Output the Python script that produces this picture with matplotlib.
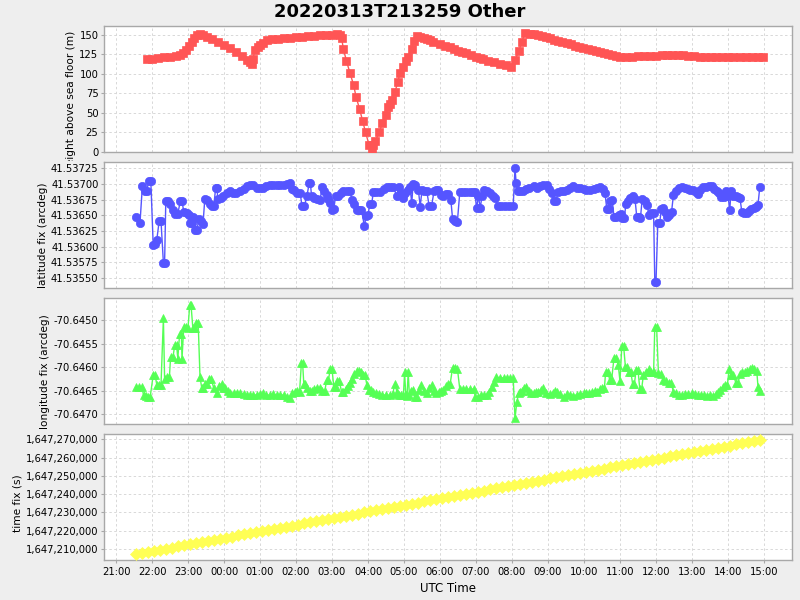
import matplotlib
matplotlib.use("Agg")
import matplotlib.pyplot as plt
import matplotlib.dates as mdates
from matplotlib.ticker import FuncFormatter, MultipleLocator, FormatStrFormatter
from matplotlib.transforms import Bbox
import pandas as pd

title = "20220313T213259 Other"
day0 = pd.Timestamp("2022-03-13")

# (UTC time, value); times before 16:00 belong to the next day
height_m = [
  ("21:51", 119), ("22:00", 119.5), ("22:10", 120.5), ("22:20", 121.5), ("22:30", 122), ("22:40", 123),
  ("22:47", 124), ("22:52", 127), ("22:56", 131), ("23:01", 136), ("23:06", 141), ("23:10", 146),
  ("23:15", 150), ("23:20", 151), ("23:25", 150.5), ("23:31", 148), ("23:40", 145), ("23:50", 141),
  ("00:00", 137), ("00:10", 133), ("00:20", 128), ("00:30", 123), ("00:38", 118), ("00:44", 115),
  ("00:47", 113), ("00:48", 119), ("00:52", 131), ("00:56", 134), ("01:00", 137), ("01:05", 140),
  ("01:11", 143.5), ("01:20", 144.5), ("01:30", 145), ("01:40", 145.8), ("01:50", 146.5), ("02:00", 147),
  ("02:10", 148), ("02:20", 148.5), ("02:30", 149), ("02:40", 149.5), ("02:50", 150), ("03:00", 150.5),
  ("03:08", 151), ("03:13", 150), ("03:16", 146), ("03:19", 132), ("03:24", 117), ("03:30", 101),
  ("03:36", 86), ("03:40", 71), ("03:46", 55), ("03:51", 40), ("03:56", 25), ("04:02", 8.5),
  ("04:06", 3), ("04:09", 9), ("04:12", 13.6), ("04:19", 26), ("04:24", 37), ("04:30", 47.7),
  ("04:34", 57.5), ("04:37", 61), ("04:40", 67), ("04:45", 77.5), ("04:50", 90), ("04:53", 101),
  ("04:59", 109.5), ("05:03", 116), ("05:07", 121.5), ("05:13", 131.7), ("05:17", 142.7), ("05:21", 148.7),
  ("05:27", 148), ("05:33", 146.5), ("05:38", 145), ("05:44", 143), ("05:49", 141.4), ("06:00", 138),
  ("06:08", 136), ("06:17", 134), ("06:23", 132), ("06:30", 130), ("06:37", 128.5), ("06:44", 126.6),
  ("06:52", 124), ("07:00", 122), ("07:06", 120.5), ("07:12", 119.3), ("07:20", 117), ("07:30", 115),
  ("07:40", 113), ("07:50", 111), ("07:59", 109.5), ("08:05", 118), ("08:12", 130), ("08:16", 141.4),
  ("08:22", 152), ("08:30", 151.5), ("08:36", 151), ("08:43", 150), ("08:50", 148.5), ("08:57", 147),
  ("09:03", 145.8), ("09:10", 144), ("09:17", 142.5), ("09:24", 141), ("09:31", 139.4), ("09:38", 138),
  ("09:45", 136.5), ("09:52", 135), ("09:59", 133.8), ("10:06", 132.5), ("10:13", 131), ("10:20", 130),
  ("10:27", 128.6), ("10:34", 127), ("10:40", 125.5), ("10:47", 124.5), ("10:54", 123), ("11:00", 122.3),
  ("11:10", 122), ("11:20", 122), ("11:30", 122.5), ("11:40", 123), ("11:50", 123), ("12:00", 123.5),
  ("12:10", 124), ("12:18", 124.4), ("12:27", 124.2), ("12:36", 124), ("12:45", 124), ("12:54", 123),
  ("13:03", 122.5), ("13:13", 122), ("13:22", 121.7), ("13:31", 121.7), ("13:40", 121.7), ("13:50", 121.7),
  ("14:00", 121.7), ("14:09", 121.7), ("14:20", 121.7), ("14:30", 121.7), ("14:40", 121.7), ("14:50", 121.7),
  ("14:58", 121.7),
]

latitude_fix = [
  ("21:34", 41.53647), ("21:40", 41.53638), ("21:44", 41.53697), ("21:48", 41.53689), ("21:51", 41.53689),
  ("21:55", 41.53705), ("21:58", 41.53705), ("22:02", 41.53603), ("22:05", 41.53604), ("22:08", 41.53611),
  ("22:12", 41.53641), ("22:15", 41.53641), ("22:19", 41.53574), ("22:21", 41.53574), ("22:23", 41.53673),
  ("22:27", 41.53673), ("22:30", 41.53668), ("22:35", 41.53659), ("22:39", 41.53652), ("22:43", 41.53652),
  ("22:47", 41.53672), ("22:50", 41.53672), ("22:53", 41.53656), ("22:58", 41.53654), ("23:01", 41.53651),
  ("23:03", 41.53637), ("23:06", 41.53637), ("23:09", 41.53648), ("23:12", 41.53627), ("23:15", 41.53627),
  ("23:18", 41.53644), ("23:22", 41.53641), ("23:25", 41.53636), ("23:28", 41.53676), ("23:32", 41.53674),
  ("23:36", 41.53668), ("23:40", 41.53665), ("23:43", 41.53665), ("23:46", 41.53693), ("23:48", 41.53693),
  ("23:50", 41.53676), ("23:55", 41.53678), ("23:59", 41.53681), ("00:05", 41.53685), ("00:10", 41.53689),
  ("00:15", 41.53686), ("00:20", 41.53685), ("00:27", 41.53688), ("00:33", 41.53692), ("00:38", 41.53696),
  ("00:44", 41.53698), ("00:49", 41.53698), ("00:55", 41.53693), ("01:00", 41.53693), ("01:05", 41.53694),
  ("01:10", 41.53696), ("01:16", 41.53698), ("01:22", 41.53698), ("01:28", 41.53698), ("01:34", 41.53698),
  ("01:40", 41.53698), ("01:45", 41.53700), ("01:50", 41.53701), ("01:53", 41.53692), ("01:56", 41.53690),
  ("02:02", 41.53686), ("02:07", 41.53685), ("02:10", 41.53665), ("02:14", 41.53665), ("02:18", 41.53680),
  ("02:22", 41.53701), ("02:24", 41.53701), ("02:26", 41.53680), ("02:30", 41.53678), ("02:35", 41.53676),
  ("02:40", 41.53675), ("02:44", 41.53695), ("02:47", 41.53688), ("02:51", 41.53682), ("02:54", 41.53676),
  ("02:57", 41.53670), ("03:00", 41.53659), ("03:03", 41.53660), ("03:06", 41.53681), ("03:10", 41.53681),
  ("03:15", 41.53685), ("03:19", 41.53689), ("03:25", 41.53689), ("03:30", 41.53689), ("03:33", 41.53675),
  ("03:37", 41.53668), ("03:41", 41.53659), ("03:45", 41.53659), ("03:49", 41.53659), ("03:54", 41.53633),
  ("03:57", 41.53649), ("04:00", 41.53650), ("04:03", 41.53668), ("04:06", 41.53668), ("04:09", 41.53687),
  ("04:14", 41.53687), ("04:20", 41.53687), ("04:26", 41.53692), ("04:31", 41.53695), ("04:37", 41.53695),
  ("04:42", 41.53695), ("04:48", 41.53681), ("04:51", 41.53695), ("04:55", 41.53685), ("04:58", 41.53677),
  ("05:02", 41.53685), ("05:06", 41.53690), ("05:10", 41.53695), ("05:13", 41.53669), ("05:15", 41.53700),
  ("05:19", 41.53698), ("05:24", 41.53690), ("05:27", 41.53664), ("05:30", 41.53690), ("05:34", 41.53688),
  ("05:38", 41.53688), ("05:42", 41.53665), ("05:46", 41.53665), ("05:50", 41.53688), ("05:54", 41.53690),
  ("05:57", 41.53690), ("06:01", 41.53682), ("06:05", 41.53680), ("06:10", 41.53684), ("06:14", 41.53684),
  ("06:18", 41.53675), ("06:21", 41.53644), ("06:25", 41.53641), ("06:29", 41.53640), ("06:33", 41.53687),
  ("06:38", 41.53687), ("06:44", 41.53687), ("06:50", 41.53687), ("06:55", 41.53687), ("06:58", 41.53687),
  ("07:01", 41.53661), ("07:04", 41.53681), ("07:07", 41.53661), ("07:10", 41.53681), ("07:14", 41.53690),
  ("07:18", 41.53688), ("07:23", 41.53685), ("07:28", 41.53680), ("07:32", 41.53677), ("07:36", 41.53665),
  ("07:42", 41.53665), ("07:48", 41.53665), ("07:55", 41.53665), ("08:02", 41.53665), ("08:05", 41.53725),
  ("08:07", 41.53701), ("08:10", 41.53689), ("08:14", 41.53689), ("08:18", 41.53689), ("08:23", 41.53692),
  ("08:29", 41.53694), ("08:36", 41.53696), ("08:42", 41.53694), ("08:47", 41.53697), ("08:52", 41.53698),
  ("08:58", 41.53698), ("09:02", 41.53692), ("09:06", 41.53685), ("09:10", 41.53673), ("09:13", 41.53673),
  ("09:17", 41.53687), ("09:22", 41.53688), ("09:26", 41.53688), ("09:32", 41.53690), ("09:37", 41.53694),
  ("09:42", 41.53696), ("09:48", 41.53694), ("09:54", 41.53694), ("10:00", 41.53692), ("10:04", 41.53690),
  ("10:10", 41.53690), ("10:16", 41.53692), ("10:22", 41.53694), ("10:27", 41.53695), ("10:31", 41.53692),
  ("10:35", 41.53685), ("10:38", 41.53660), ("10:41", 41.53660), ("10:44", 41.53673), ("10:47", 41.53675),
  ("10:50", 41.53647), ("10:54", 41.53647), ("10:58", 41.53650), ("11:01", 41.53652), ("11:04", 41.53645),
  ("11:07", 41.53645), ("11:10", 41.53668), ("11:13", 41.53672), ("11:17", 41.53678), ("11:22", 41.53680),
  ("11:25", 41.53676), ("11:28", 41.53647), ("11:31", 41.53647), ("11:34", 41.53645), ("11:37", 41.53676),
  ("11:41", 41.53672), ("11:45", 41.53667), ("11:48", 41.53651), ("11:52", 41.53653), ("11:56", 41.53654),
  ("11:58", 41.53544), ("12:00", 41.53544), ("12:03", 41.53637), ("12:06", 41.53637), ("12:09", 41.53660),
  ("12:12", 41.53661), ("12:15", 41.53655), ("12:18", 41.53648), ("12:22", 41.53650), ("12:26", 41.53656),
  ("12:29", 41.53682), ("12:33", 41.53688), ("12:38", 41.53693), ("12:43", 41.53695), ("12:48", 41.53694),
  ("12:53", 41.53692), ("12:57", 41.53690), ("13:02", 41.53690), ("13:06", 41.53687), ("13:10", 41.53684),
  ("13:14", 41.53690), ("13:18", 41.53695), ("13:23", 41.53695), ("13:28", 41.53696), ("13:33", 41.53696),
  ("13:37", 41.53692), ("13:41", 41.53688), ("13:45", 41.53685), ("13:49", 41.53679), ("13:53", 41.53679),
  ("13:57", 41.53688), ("14:00", 41.53680), ("14:03", 41.53659), ("14:05", 41.53688), ("14:09", 41.53680),
  ("14:13", 41.53680), ("14:17", 41.53679), ("14:20", 41.53677), ("14:23", 41.53656), ("14:27", 41.53654),
  ("14:31", 41.53654), ("14:35", 41.53657), ("14:39", 41.53660), ("14:43", 41.53661), ("14:47", 41.53664),
  ("14:50", 41.53667), ("14:53", 41.53695),
]

longitude_fix = [
  ("21:34", -70.64642), ("21:38", -70.64642), ("21:43", -70.64642), ("21:46", -70.64660), ("21:50", -70.64662),
  ("21:54", -70.64663), ("21:57", -70.64663), ("22:02", -70.64617), ("22:05", -70.64617), ("22:08", -70.64637),
  ("22:11", -70.64637), ("22:15", -70.64637), ("22:19", -70.64496), ("22:21", -70.64625), ("22:25", -70.64622),
  ("22:29", -70.64621), ("22:31", -70.64578), ("22:35", -70.64578), ("22:38", -70.64553), ("22:41", -70.64553),
  ("22:43", -70.64582), ("22:46", -70.64530), ("22:49", -70.64530), ("22:50", -70.64582), ("22:53", -70.64514),
  ("22:57", -70.64514), ("23:00", -70.64516), ("23:03", -70.64467), ("23:05", -70.64467), ("23:08", -70.64516),
  ("23:11", -70.64516), ("23:14", -70.64507), ("23:17", -70.64507), ("23:20", -70.64621), ("23:23", -70.64645),
  ("23:25", -70.64645), ("23:28", -70.64635), ("23:31", -70.64635), ("23:35", -70.64626), ("23:39", -70.64626),
  ("23:43", -70.64645), ("23:48", -70.64656), ("23:52", -70.64640), ("23:56", -70.64635), ("23:59", -70.64645),
  ("00:02", -70.64645), ("00:06", -70.64650), ("00:10", -70.64656), ("00:16", -70.64655), ("00:22", -70.64656),
  ("00:27", -70.64655), ("00:33", -70.64658), ("00:38", -70.64660), ("00:43", -70.64660), ("00:49", -70.64660),
  ("00:55", -70.64659), ("01:00", -70.64658), ("01:05", -70.64656), ("01:10", -70.64659), ("01:16", -70.64660),
  ("01:22", -70.64658), ("01:28", -70.64660), ("01:34", -70.64659), ("01:40", -70.64660), ("01:45", -70.64663),
  ("01:50", -70.64665), ("01:54", -70.64654), ("01:58", -70.64652), ("02:02", -70.64650), ("02:06", -70.64652),
  ("02:09", -70.64591), ("02:11", -70.64591), ("02:13", -70.64635), ("02:15", -70.64635), ("02:19", -70.64645),
  ("02:23", -70.64650), ("02:26", -70.64650), ("02:30", -70.64647), ("02:35", -70.64644), ("02:40", -70.64645),
  ("02:44", -70.64651), ("02:48", -70.64651), ("02:51", -70.64628), ("02:54", -70.64628), ("02:57", -70.64604),
  ("03:00", -70.64604), ("03:03", -70.64642), ("03:06", -70.64642), ("03:09", -70.64630), ("03:12", -70.64630),
  ("03:16", -70.64652), ("03:19", -70.64652), ("03:23", -70.64646), ("03:27", -70.64640), ("03:30", -70.64634),
  ("03:33", -70.64626), ("03:37", -70.64615), ("03:41", -70.64609), ("03:45", -70.64609), ("03:49", -70.64610),
  ("03:52", -70.64616), ("03:55", -70.64616), ("03:58", -70.64637), ("04:01", -70.64648), ("04:05", -70.64648),
  ("04:09", -70.64653), ("04:14", -70.64656), ("04:19", -70.64658), ("04:24", -70.64659), ("04:30", -70.64660),
  ("04:37", -70.64660), ("04:41", -70.64658), ("04:45", -70.64635), ("04:48", -70.64652), ("04:51", -70.64660),
  ("04:55", -70.64660), ("04:59", -70.64660), ("05:01", -70.64611), ("05:03", -70.64660), ("05:05", -70.64662),
  ("05:07", -70.64611), ("05:09", -70.64660), ("05:12", -70.64650), ("05:15", -70.64649), ("05:18", -70.64663),
  ("05:21", -70.64663), ("05:25", -70.64648), ("05:29", -70.64638), ("05:33", -70.64650), ("05:38", -70.64656),
  ("05:42", -70.64645), ("05:46", -70.64637), ("05:50", -70.64650), ("05:54", -70.64656), ("05:58", -70.64652),
  ("06:02", -70.64650), ("06:05", -70.64649), ("06:10", -70.64640), ("06:14", -70.64635), ("06:17", -70.64635),
  ("06:21", -70.64601), ("06:25", -70.64601), ("06:29", -70.64603), ("06:33", -70.64647), ("06:38", -70.64647),
  ("06:44", -70.64647), ("06:50", -70.64647), ("06:56", -70.64647), ("06:59", -70.64663), ("07:03", -70.64663),
  ("07:08", -70.64660), ("07:13", -70.64660), ("07:18", -70.64660), ("07:22", -70.64652), ("07:26", -70.64642),
  ("07:30", -70.64632), ("07:34", -70.64621), ("07:40", -70.64623), ("07:46", -70.64623), ("07:52", -70.64623),
  ("07:57", -70.64623), ("08:02", -70.64623), ("08:05", -70.64709), ("08:08", -70.64675), ("08:11", -70.64656),
  ("08:13", -70.64652), ("08:17", -70.64650), ("08:20", -70.64645), ("08:24", -70.64642), ("08:28", -70.64650),
  ("08:32", -70.64655), ("08:36", -70.64656), ("08:40", -70.64653), ("08:44", -70.64652), ("08:48", -70.64648),
  ("08:52", -70.64645), ("08:57", -70.64655), ("09:03", -70.64658), ("09:08", -70.64655), ("09:12", -70.64650),
  ("09:15", -70.64652), ("09:20", -70.64658), ("09:26", -70.64663), ("09:31", -70.64658), ("09:36", -70.64659),
  ("09:42", -70.64661), ("09:48", -70.64659), ("09:54", -70.64657), ("10:00", -70.64656), ("10:04", -70.64656),
  ("10:09", -70.64655), ("10:14", -70.64653), ("10:18", -70.64650), ("10:21", -70.64652), ("10:26", -70.64647),
  ("10:30", -70.64645), ("10:34", -70.64645), ("10:36", -70.64611), ("10:40", -70.64611), ("10:43", -70.64628),
  ("10:46", -70.64628), ("10:50", -70.64580), ("10:53", -70.64580), ("10:57", -70.64595), ("11:00", -70.64630),
  ("11:03", -70.64555), ("11:06", -70.64555), ("11:09", -70.64599), ("11:12", -70.64599), ("11:15", -70.64610),
  ("11:18", -70.64610), ("11:21", -70.64635), ("11:24", -70.64635), ("11:27", -70.64606), ("11:30", -70.64606),
  ("11:33", -70.64647), ("11:36", -70.64647), ("11:39", -70.64617), ("11:43", -70.64610), ("11:48", -70.64604),
  ("11:52", -70.64610), ("11:56", -70.64611), ("11:58", -70.64514), ("12:01", -70.64514), ("12:04", -70.64613),
  ("12:08", -70.64615), ("12:12", -70.64628), ("12:17", -70.64630), ("12:21", -70.64633), ("12:25", -70.64633),
  ("12:29", -70.64652), ("12:33", -70.64656), ("12:38", -70.64660), ("12:43", -70.64660), ("12:48", -70.64658),
  ("12:54", -70.64657), ("13:00", -70.64656), ("13:05", -70.64658), ("13:10", -70.64660), ("13:15", -70.64659),
  ("13:20", -70.64660), ("13:25", -70.64661), ("13:30", -70.64660), ("13:35", -70.64661), ("13:40", -70.64658),
  ("13:44", -70.64652), ("13:47", -70.64649), ("13:51", -70.64642), ("13:55", -70.64637), ("13:59", -70.64637),
  ("14:02", -70.64603), ("14:05", -70.64617), ("14:09", -70.64617), ("14:13", -70.64633), ("14:17", -70.64633),
  ("14:20", -70.64615), ("14:24", -70.64610), ("14:28", -70.64610), ("14:32", -70.64608), ("14:36", -70.64605),
  ("14:40", -70.64601), ("14:44", -70.64603), ("14:48", -70.64609), ("14:50", -70.64642), ("14:53", -70.64651),
]

# time fix in kiloseconds (epoch), one reading every 10 minutes from 21:33
time_fix_start = "21:33"
time_fix_ks = [
  1647207.2, 1647207.8, 1647208.4, 1647209.0, 1647209.6, 1647210.2,
  1647210.8, 1647211.4, 1647212.0, 1647212.6, 1647213.2, 1647213.8,
  1647214.4, 1647215.0, 1647215.6, 1647216.2, 1647216.8, 1647217.4,
  1647218.0, 1647218.6, 1647219.2, 1647219.8, 1647220.4, 1647221.0,
  1647221.6, 1647222.2, 1647222.8, 1647223.4, 1647224.0, 1647224.6,
  1647225.2, 1647225.8, 1647226.4, 1647227.0, 1647227.6, 1647228.2,
  1647228.8, 1647229.4, 1647230.0, 1647230.6, 1647231.2, 1647231.8,
  1647232.4, 1647233.0, 1647233.6, 1647234.2, 1647234.8, 1647235.4,
  1647236.0, 1647236.6, 1647237.2, 1647237.8, 1647238.4, 1647239.0,
  1647239.6, 1647240.2, 1647240.8, 1647241.4, 1647242.0, 1647242.6,
  1647243.2, 1647243.8, 1647244.4, 1647245.0, 1647245.6, 1647246.2,
  1647246.8, 1647247.4, 1647248.0, 1647248.6, 1647249.2, 1647249.8,
  1647250.4, 1647251.0, 1647251.6, 1647252.2, 1647252.8, 1647253.4,
  1647254.0, 1647254.6, 1647255.2, 1647255.8, 1647256.4, 1647257.0,
  1647257.6, 1647258.2, 1647258.8, 1647259.4, 1647260.0, 1647260.6,
  1647261.2, 1647261.8, 1647262.4, 1647263.0, 1647263.6, 1647264.2,
  1647264.8, 1647265.4, 1647266.0, 1647266.6, 1647267.2, 1647267.8,
  1647268.4, 1647269.0, 1647269.6,
]


def to_dt(hhmm):
  h, m = map(int, hhmm.split(":"))
  day = day0 if h >= 16 else day0 + pd.Timedelta(days=1)
  return (day + pd.Timedelta(hours=h, minutes=m)).to_pydatetime()


def split(pairs):
  return [to_dt(t) for t, _ in pairs], [v for _, v in pairs]


fix_times = [to_dt(time_fix_start) + pd.Timedelta(minutes=10 * i) for i in range(len(time_fix_ks))]
fix_values = [v * 1000 for v in time_fix_ks]

panels = [
  dict(data=split(height_m), color='#ff5555', marker='s', ms=5.6,
       label='height above sea floor (m)', ylim=(0, 161.5), step=25, fmt='%d', lx=76, dy=12),
  dict(data=split(latitude_fix), color='#5555ff', marker='o', ms=6.0,
       label='latitude fix (arcdeg)', ylim=(41.53534, 41.53735), step=0.00025, fmt='%.5f', lx=48, dy=10),
  dict(data=split(longitude_fix), color='#55ff55', marker='^', ms=6.4,
       label='longitude fix (arcdeg)', ylim=(-70.64721, -70.64453), step=0.0005, fmt='%.4f', lx=50, dy=11),
  dict(data=(fix_times, fix_values), color='#ffff55', marker='D', ms=6.2,
       label='time fix (s)', ylim=(1647204000, 1647272900), step=10000, fmt=None, lx=23, dy=6),
]

W, H = 800, 600
fig = plt.figure(figsize=(W / 100, H / 100), dpi=100, facecolor='#eeeeee')
left, right = 104, 792
tops = [26, 162, 298, 434]
ph = 126
xmin = to_dt("20:40")
xmax = to_dt("15:46") + pd.Timedelta(seconds=40)

for i, p in enumerate(panels):
  ax = fig.add_axes([left / W, 1 - (tops[i] + ph) / H, (right - left) / W, ph / H])
  ax.set_facecolor('white')
  xs, ys = p['data']
  ax.plot(xs, ys, color=p['color'], lw=1.0, marker=p['marker'], ms=p['ms'],
          mfc=p['color'], mec=p['color'], mew=0.5, zorder=3)
  ax.set_xlim(xmin, xmax)
  ax.set_ylim(*p['ylim'])
  ax.yaxis.set_major_locator(MultipleLocator(p['step']))
  if p['fmt']:
    ax.yaxis.set_major_formatter(FormatStrFormatter(p['fmt']))
  else:
    ax.yaxis.set_major_formatter(FuncFormatter(lambda v, pos: f"{int(round(v)):,}"))
  ax.xaxis.set_major_locator(mdates.HourLocator())
  ax.xaxis.set_major_formatter(mdates.DateFormatter('%H:%M'))
  ax.grid(True, color='#d8d8d8', lw=0.7, ls=(0, (2.5, 2.5)))
  ax.set_axisbelow(True)
  for s in ax.spines.values():
    s.set_color('#a8a8a8')
    s.set_linewidth(1.0)
  ax.tick_params(axis='y', labelsize=7.2, length=2, color='#a8a8a8', pad=2)
  ax.tick_params(axis='x', labelsize=7.2, length=2, color='#a8a8a8', pad=3)
  if i < 3:
    ax.tick_params(axis='x', labelbottom=False, length=0)
  lab = ax.set_ylabel(p['label'], fontsize=7.6)
  # label sits a little below the panel centre, right edge next to the tick labels
  ax.yaxis.set_label_coords((p['lx'] - left) / (right - left), 0.5 - p['dy'] / ph)
  if i == 0:
    lab.set_clip_box(Bbox.from_extents(0, H - 161, W, H))
    lab.set_clip_on(True)
  if i == 3:
    ax.set_xlabel('UTC Time', fontsize=8.5, labelpad=4)

fig.suptitle(title, fontsize=13, fontweight='bold', y=1 - 12 / H, va='center')
fig.savefig('out.png', dpi=100, facecolor=fig.get_facecolor())
